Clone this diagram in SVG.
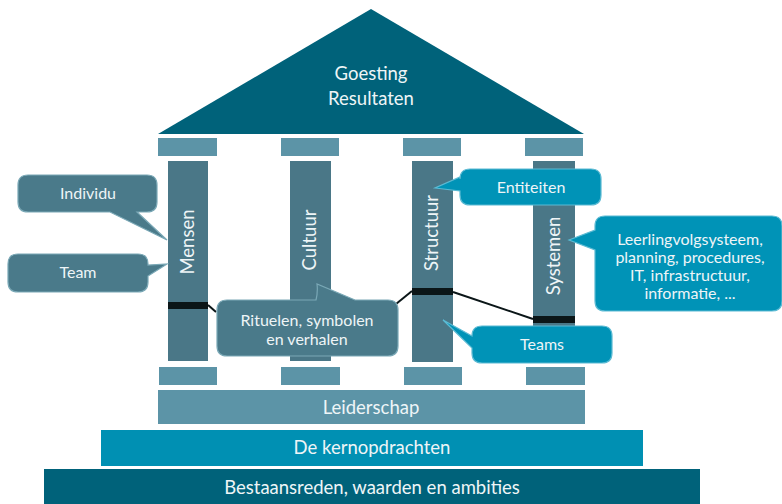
<svg xmlns="http://www.w3.org/2000/svg" width="782" height="504" viewBox="0 0 782 504">
<style>
text{font-family:Lato,"Noto Sans","DejaVu Sans",sans-serif;fill:#eef5f7;text-anchor:middle}
.big{font-size:18.5px}
.sm{font-size:16px}
.cap{fill:#5c94a7}
.col{fill:#4a7787}
.band{fill:#0b1618}
.dk{fill:#4a7a8a;stroke:#7aa8b6;stroke-width:1.2}
.bl{fill:#0093b7;stroke:#5bbad3;stroke-width:1.2}
</style>
<rect width="782" height="504" fill="#ffffff"/>
<g id="roof">
<polygon points="371,9 584,134 158,134" fill="#00627a"/>
<text class="big" x="371" y="80">Goesting</text>
<text class="big" x="371" y="105">Resultaten</text>
</g>
<g id="capitals">
<rect class="cap" x="158" y="138" width="59" height="18"/>
<rect class="cap" x="281" y="138" width="58" height="18"/>
<rect class="cap" x="403" y="138" width="58" height="18"/>
<rect class="cap" x="525" y="138" width="58" height="18"/>
</g>
<g id="bases">
<rect class="cap" x="159" y="367" width="58" height="18"/>
<rect class="cap" x="281" y="367" width="59" height="18"/>
<rect class="cap" x="404" y="367" width="58" height="18"/>
<rect class="cap" x="526" y="367" width="59" height="18"/>
</g>
<g id="mensen">
<rect class="col" x="168" y="161" width="40" height="200"/>
<rect class="band" x="168" y="302" width="40" height="7"/>
<text class="big" transform="translate(194,242) rotate(-90)">Mensen</text>
</g>
<g id="cultuur">
<rect class="col" x="290" y="161" width="41" height="200"/>
<text class="big" transform="translate(316,240) rotate(-90)">Cultuur</text>
</g>
<g id="structuur">
<rect class="col" x="412" y="161" width="41" height="201"/>
<rect class="band" x="412" y="288" width="41" height="7"/>
<text class="big" transform="translate(438,233) rotate(-90)">Structuur</text>
</g>
<g id="systemen">
<rect class="col" x="533" y="161" width="42" height="200"/>
<rect class="band" x="533" y="316" width="42" height="7"/>
<text class="big" transform="translate(560,256) rotate(-90)">Systemen</text>
</g>
<g id="connectors" fill="none" stroke="#0b1618" stroke-width="2">
<polyline points="208,305 216,312"/>
<polyline points="396,304 412,291"/>
<polyline points="453,292 533,319"/>
</g>
<g id="leiderschap">
<rect x="158" y="390" width="427" height="34" fill="#5c94a7"/>
<text class="big" x="371" y="414">Leiderschap</text>
</g>
<g id="kernopdrachten">
<rect x="101" y="430" width="542" height="36" fill="#0090b3"/>
<text class="big" x="372" y="454">De kernopdrachten</text>
</g>
<g id="bestaansreden">
<rect x="44" y="469" width="656" height="35" fill="#00627a"/>
<text class="big" x="372" y="494">Bestaansreden, waarden en ambities</text>
</g>
<g id="individu">
<path class="dk" d="M28,175 H147 Q157,175 157,185 V202 Q157,212 147,212 H137 L167,240 L110,212 H28 Q18,212 18,202 V185 Q18,175 28,175 Z"/>
<text class="sm" x="88" y="199">Individu</text>
</g>
<g id="team">
<path class="dk" d="M18,254 H138 Q148,254 148,264 V265 L167,264 L148,276 V282 Q148,292 138,292 H18 Q8,292 8,282 V264 Q8,254 18,254 Z"/>
<text class="sm" x="78" y="278">Team</text>
</g>
<g id="rituelen">
<path class="dk" d="M227,300 H316 Q318,292 317,284 L355,300 H388 Q398,300 398,310 V346 Q398,356 388,356 H227 Q217,356 217,346 V310 Q217,300 227,300 Z"/>
<text class="sm" x="307" y="326">Rituelen, symbolen</text>
<text class="sm" x="307" y="345">en verhalen</text>
</g>
<g id="entiteiten">
<path class="bl" d="M470,169 H591 Q601,169 601,179 V195 Q601,205 591,205 H470 Q460,205 460,195 V191 L435,188 L460,177 V179 Q460,169 470,169 Z"/>
<text class="sm" x="531" y="193">Entiteiten</text>
</g>
<g id="teams">
<path class="bl" d="M482,326 H602 Q612,326 612,336 V353 Q612,363 602,363 H482 Q472,363 472,353 V348 L443,320 L472,336 Q472,326 482,326 Z"/>
<text class="sm" x="542" y="350">Teams</text>
</g>
<g id="systemen-info">
<path class="bl" d="M605,216 H772 Q782,216 782,226 V301 Q782,311 772,311 H605 Q595,311 595,301 V250 L569,240 L595,230 V226 Q595,216 605,216 Z"/>
<text class="sm" x="690" y="245">Leerlingvolgsysteem,</text>
<text class="sm" x="690" y="263">planning, procedures,</text>
<text class="sm" x="690" y="281">IT, infrastructuur,</text>
<text class="sm" x="690" y="299">informatie, ...</text>
</g>
</svg>
